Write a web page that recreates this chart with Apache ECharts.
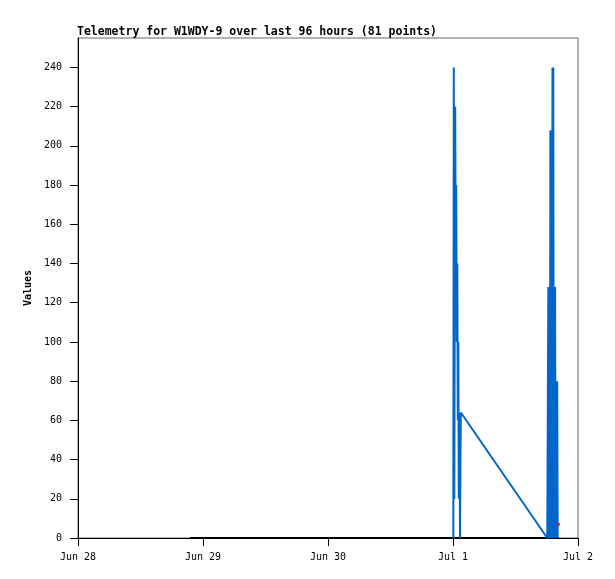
<!DOCTYPE html>
<html>
<head>
<meta charset="utf-8">
<script src="https://cdn.jsdelivr.net/npm/echarts@6/dist/echarts.min.js"></script>
<style>
html,body{margin:0;padding:0;background:#fff;}
#chart{width:615px;height:579px;}
</style>
</head>
<body>
<div id="chart"></div>
<script>
// X axis: hours since Jun 28 00:00
const xTickLabels = ['Jun 28', 'Jun 29', 'Jun 30', 'Jul 1', 'Jul 2'];
const xTickHours = [0, 24, 48, 72, 96];
const yTicks = [0, 20, 40, 60, 80, 100, 120, 140, 160, 180, 200, 220, 240];

// Blue telemetry channel
const blueHours = [72.06, 72.15, 72.25, 72.42, 72.52, 72.62, 72.73, 72.83, 72.92, 73.02, 73.11, 73.27, 73.34, 73.50,
  90.10, 90.30, 90.40, 90.50, 90.60, 90.70, 90.80, 90.90, 91.00, 91.10, 91.20, 91.25, 91.35, 91.40, 91.50, 91.60, 91.70, 91.80, 91.90, 92.00, 92.10];
const blueValues = [0, 240, 20, 220, 140, 180, 100, 140, 60, 100, 20, 64, 0, 64,
  0, 128, 0, 128, 0, 208, 0, 208, 0, 240, 0, 240, 0, 128, 0, 128, 0, 80, 0, 80, 0];

// Black telemetry channel (all zero)
const blackHours = [21.5, 36.0, 48.0, 60.0, 72.0, 84.0, 92.35];
const blackValues = [0, 0, 0, 0, 0, 0, 0];

// Red telemetry channel
const redHours = [92.25];
const redValues = [7];

const zip = (xs, ys) => xs.map((x, i) => [x, ys[i]]);
const mono = 'DejaVu Sans Mono';

const chart = echarts.init(document.getElementById('chart'), null, {renderer: 'canvas'});
chart.setOption({
  animation: false,
  backgroundColor: '#ffffff',
  title: {
    text: 'Telemetry for W1WDY-9 over last 96 hours (81 points)',
    left: 77, top: 26, padding: 0,
    textStyle: {fontFamily: mono, fontWeight: 'bold', fontSize: 11.5, color: '#000'}
  },
  grid: {left: 78, top: 38, width: 500, height: 500, show: true, borderColor: '#666', borderWidth: 1, backgroundColor: 'transparent'},
  xAxis: {
    type: 'value', min: 0, max: 96, interval: 24,
    axisLine: {show: true, lineStyle: {color: '#000', width: 1}},
    axisTick: {show: true, inside: false, length: 8, lineStyle: {color: '#000'}},
    axisLabel: {
      margin: 14, fontFamily: mono, fontSize: 10, color: '#000',
      formatter: v => { const i = xTickHours.indexOf(v); return i >= 0 ? xTickLabels[i] : ''; }
    },
    splitLine: {show: false}
  },
  yAxis: {
    type: 'value', min: 0, max: 255,
    name: 'Values', nameLocation: 'middle', nameRotate: 90, nameGap: 43,
    nameTextStyle: {fontFamily: mono, fontWeight: 'bold', fontSize: 10, color: '#000'},
    axisLine: {show: true, lineStyle: {color: '#000', width: 1}},
    axisTick: {show: true, inside: false, length: 8, lineStyle: {color: '#000'}, customValues: yTicks},
    axisLabel: {margin: 16, fontFamily: mono, fontSize: 10, color: '#000', customValues: yTicks},
    splitLine: {show: false}
  },
  series: [
    {
      type: 'line', data: zip(blackHours, blackValues), showSymbol: false,
      lineStyle: {color: '#000', width: 2}, z: 3
    },
    {
      type: 'line', data: zip(blueHours, blueValues), showSymbol: false,
      lineStyle: {color: '#0066cc', width: 2}, z: 4
    },
    {
      type: 'scatter', data: zip(redHours, redValues), symbol: 'rect', symbolSize: 3,
      itemStyle: {color: '#ff0000'}, z: 5
    }
  ]
});
</script>
</body>
</html>
